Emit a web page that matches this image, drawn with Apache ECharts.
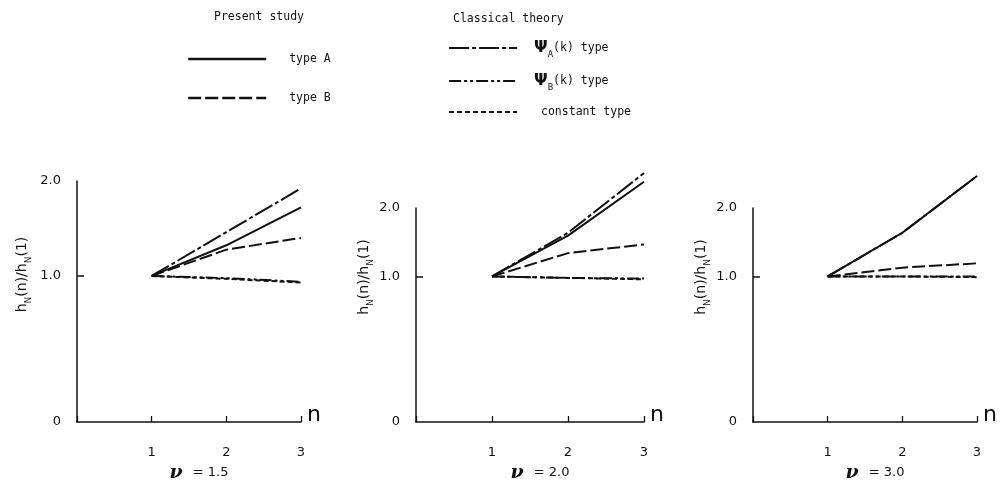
<!DOCTYPE html>
<html>
<head>
<meta charset="utf-8">
<script src="https://cdn.jsdelivr.net/npm/echarts@6/dist/echarts.min.js"></script>
<style>
  html, body { margin: 0; padding: 0; background: #fff; }
  #main { width: 1000px; height: 483px; }
</style>
</head>
<body>
<div id="main"></div>
<script>
// n values on the x axis
var nValues = [1, 2, 3];

// nu = 1.5
var typeA15 = [1, 1.21, 1.47];
var typeB15 = [1, 1.18, 1.26];
var psiA15 = [1, 1.30, 1.60];
var psiB15 = [1, 0.985, 0.96];
var const15 = [1, 0.98, 0.955];

// nu = 2.0
var typeA20 = [1, 1.28, 1.65];
var typeB20 = [1, 1.16, 1.22];
var psiA20 = [1, 1.30, 1.71];
var psiB20 = [1, 0.99, 0.985];
var const20 = [1, 0.99, 0.98];

// nu = 3.0
var typeA30 = [1, 1.30, 1.69];
var typeB30 = [1, 1.06, 1.09];
var psiA30 = [1, 1.30, 1.69];
var psiB30 = [1, 1.0, 1.0];
var const30 = [1, 1.0, 0.995];

var panelTitles = ['= 1.5', '= 2.0', '= 3.0'];
// top of each drawn y axis (the scan labels it "2.0")
var yAxisTop = [1.65, 1.47, 1.47];
var yTickLabels = ['0', '1.0', '2.0'];
var xTickLabels = ['1', '2', '3'];

var seriesNames = ['type A', 'type B', 'ΨA(k) type', 'ΨB(k) type', 'constant type'];
var panelData = [
  [typeA15, typeB15, psiA15, psiB15, const15],
  [typeA20, typeB20, psiA20, psiB20, const20],
  [typeA30, typeB30, psiA30, psiB30, const30]
];

var dashes = ['solid', [13, 4], [20, 3, 4, 3], [12, 3, 3, 3, 3, 3], [5, 3]];

var gridPos = [
  { left: 77, width: 224, top: 181, bottom: 61 },
  { left: 416, width: 228, top: 208, bottom: 61 },
  { left: 753, width: 224, top: 208, bottom: 61 }
];
var namePad = [54, 76, 76];
var nameGaps = [44, 38, 34];

var ink = '#111';
var sans = 'Liberation Sans Narrow, DejaVu Sans, sans-serif';
var mono = 'DejaVu Sans Mono, monospace';

var subRich = {
  m: { fontSize: 14, fontFamily: sans, color: ink, lineHeight: 22, verticalAlign: 'middle' },
  s: { fontSize: 9, fontFamily: sans, color: ink, lineHeight: 9, verticalAlign: 'bottom' }
};

function pairs(arr) {
  return nValues.map(function (n, i) { return [n, arr[i]]; });
}

var grids = [], xAxes = [], yAxes = [], series = [], titles = [];

gridPos.forEach(function (g, p) {
  grids.push(g);
  xAxes.push({
    gridIndex: p,
    type: 'value',
    min: 0,
    max: 3,
    interval: 1,
    name: 'n',
    nameLocation: 'end',
    nameGap: 6,
    nameTextStyle: { fontSize: 22, fontFamily: 'DejaVu Sans', color: ink, verticalAlign: 'bottom', padding: [0, 0, -4, 0] },
    axisLine: { show: true, lineStyle: { color: ink, width: 1.5 } },
    axisTick: { show: true, inside: true, length: 6, lineStyle: { color: ink, width: 1.3 } },
    axisLabel: {
      margin: 24,
      fontSize: 13,
      fontFamily: sans,
      color: ink,
      formatter: function (v) { return v === 0 ? '' : xTickLabels[v - 1]; }
    },
    splitLine: { show: false }
  });
  var top = yAxisTop[p];
  yAxes.push({
    gridIndex: p,
    type: 'value',
    min: 0,
    max: top,
    name: '{m|h}{s|N}{m|(n)/h}{s|N}{m|(1)}',
    nameLocation: 'middle',
    nameGap: nameGaps[p],
    nameRotate: 90,
    nameTextStyle: { rich: subRich, padding: [0, 0, 0, namePad[p]] },
    axisLine: { show: true, lineStyle: { color: ink, width: 1.5 } },
    axisTick: { show: true, inside: true, length: 7, customValues: [1], lineStyle: { color: ink, width: 1.5 } },
    axisLabel: {
      customValues: [0, 1, top],
      margin: 16,
      fontSize: 13,
      fontFamily: sans,
      color: ink,
      formatter: function (v) {
        if (v === 0) return yTickLabels[0];
        if (v === 1) return yTickLabels[1];
        return yTickLabels[2];
      }
    },
    splitLine: { show: false }
  });
  panelData[p].forEach(function (arr, k) {
    series.push({
      name: seriesNames[k],
      type: 'line',
      xAxisIndex: p,
      yAxisIndex: p,
      data: pairs(arr),
      symbol: 'none',
      clip: false,
      silent: true,
      lineStyle: { color: ink, width: 2, type: dashes[k] },
      itemStyle: { color: ink }
    });
  });
  titles.push({
    text: '{v|ν}  {e|' + panelTitles[p] + '}',
    left: g.left + g.width / 2 + 10,
    top: 462,
    padding: 0,
    textAlign: 'center',
    textStyle: {
      rich: {
        v: { fontSize: 19, fontFamily: 'DejaVu Serif', fontStyle: 'italic', fontWeight: 'bold', color: ink, lineHeight: 22, verticalAlign: 'middle' },
        e: { fontSize: 13, fontFamily: sans, fontWeight: 'normal', color: ink, lineHeight: 22, verticalAlign: 'middle' }
      }
    }
  });
});

titles.push({
  text: 'Present study',
  left: 209, top: 6,
  textStyle: { fontSize: 11.5, fontFamily: mono, fontWeight: 'normal', color: ink }
});
titles.push({
  text: 'Classical theory',
  left: 448, top: 8,
  textStyle: { fontSize: 11.5, fontFamily: mono, fontWeight: 'normal', color: ink }
});

var legRich = {
  t: { fontSize: 11.5, fontFamily: mono, color: ink, lineHeight: 22, verticalAlign: 'middle' },
  g: { fontSize: 16, fontFamily: 'DejaVu Sans', fontWeight: 'bold', color: ink, lineHeight: 22, verticalAlign: 'middle' },
  s: { fontSize: 9, fontFamily: mono, color: ink, lineHeight: 9, verticalAlign: 'bottom' }
};
function legFormat(name) {
  if (name.charAt(0) === 'Ψ') {
    return '{g|Ψ}{s|' + name.charAt(1) + '}{t|' + name.slice(2) + '}';
  }
  if (name === 'constant type') return '{t| ' + name + '}';
  return '{t|' + name + '}';
}

var option = {
  animation: false,
  backgroundColor: '#fff',
  title: titles,
  grid: grids,
  xAxis: xAxes,
  yAxis: yAxes,
  legend: [
    {
      data: ['type A', 'type B'],
      orient: 'vertical',
      left: 182, top: 48,
      itemWidth: 78, itemHeight: 14,
      itemGap: 27,
      selectedMode: false,
      itemStyle: { opacity: 0 },
      lineStyle: { width: 2.4 },
      formatter: legFormat,
      textStyle: { rich: legRich, padding: [0, 0, 0, 18] }
    },
    {
      data: ['ΨA(k) type', 'ΨB(k) type', 'constant type'],
      orient: 'vertical',
      left: 443, top: 35,
      itemWidth: 68, itemHeight: 14,
      itemGap: 14,
      selectedMode: false,
      itemStyle: { opacity: 0 },
      lineStyle: { width: 2.2 },
      formatter: legFormat,
      textStyle: { rich: legRich, padding: [0, 0, 0, 12] }
    }
  ],
  series: series
};

var chart = echarts.init(document.getElementById('main'));
chart.setOption(option);
</script>
</body>
</html>
